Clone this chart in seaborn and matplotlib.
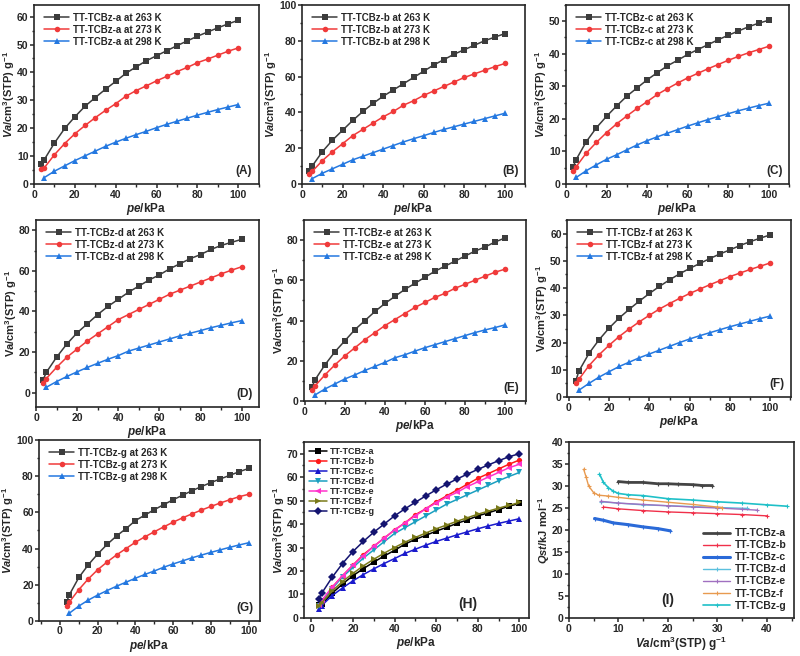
import numpy as np
import pandas as pd
import matplotlib
matplotlib.use('Agg')
import matplotlib.pyplot as plt
from matplotlib.ticker import AutoMinorLocator, MultipleLocator
import seaborn as sns

# pressure grids (kPa)
p_cold = [3.5, 5, 10, 15, 20, 25, 30, 35, 40, 45, 50, 55, 60, 65, 70, 75, 80, 85, 90, 95, 100]
p_warm = [5, 10, 15, 20, 25, 30, 35, 40, 45, 50, 55, 60, 65, 70, 75, 80, 85, 90, 95, 100]

# uptake at 263 K, 273 K, 298 K for each sample
a_263 = [7.3, 8.7, 14.7, 19.9, 24.1, 27.9, 31, 34, 36.8, 39.7, 42, 44.2, 46, 47.8, 49.6, 51.3, 53, 54.5, 56, 57.4, 58.7]
a_273 = [5.4, 5.8, 10.5, 14.5, 18, 21, 23.8, 26.4, 28.8, 31.5, 33.5, 35.2, 37, 38.6, 40.3, 41.8, 43.5, 44.8, 46.2, 47.6, 48.8]
a_298 = [2.3, 4.6, 6.5, 8.4, 10.1, 11.8, 13.5, 15, 16.4, 17.7, 18.9, 20.2, 21.4, 22.5, 23.6, 24.7, 25.7, 26.7, 27.6, 28.5]

b_263 = [7, 10, 18, 24.5, 30, 35.5, 40.5, 45, 49, 52.5, 56, 59.5, 63, 66.5, 69.5, 72.5, 75, 77.5, 80, 82, 84]
b_273 = [5.5, 7, 13, 18, 22.5, 27, 30.5, 34, 37.5, 40.5, 44, 46.5, 49.5, 52, 54.5, 57, 59.5, 61.5, 63.5, 65.5, 67.3]
b_298 = [3, 6, 8.5, 11, 13.5, 15.5, 17.5, 19.5, 21.5, 23.5, 25.3, 27, 28.8, 30.5, 32, 33.5, 35, 36.5, 38, 39.5]

c_263 = [5.3, 7.5, 13, 17.3, 20.8, 24, 27, 29.5, 32, 34.2, 36.3, 38, 39.8, 41.3, 42.8, 44.3, 45.7, 47, 48.3, 49.4, 50.3]
c_273 = [4, 5.3, 9.5, 12.8, 15.8, 18.5, 20.9, 23.2, 25.3, 27.5, 29.3, 31, 32.6, 34, 35.4, 36.7, 38, 39.2, 40.3, 41.3, 42.3]
c_298 = [2, 4.1, 5.9, 7.6, 9, 10.5, 12, 13.3, 14.5, 15.6, 16.7, 17.8, 18.8, 19.8, 20.7, 21.6, 22.5, 23.3, 24.1, 24.8]

d_263 = [6.5, 10, 17.5, 24, 29.5, 34, 38.5, 42.5, 46, 49.5, 52.5, 55.5, 58, 61, 63.5, 66, 68, 70.5, 72.5, 74, 75.5]
d_273 = [5, 7, 12.5, 17.5, 21.5, 25.5, 29, 32.5, 36, 38.5, 41, 43.5, 46, 48.5, 50.5, 52.5, 54.5, 56.5, 58.5, 60.3, 62]
d_298 = [2.7, 5.5, 8, 10.3, 12.5, 14.5, 16.5, 18.3, 20.5, 22, 23.5, 25, 26.5, 28, 29.3, 30.6, 32, 33.2, 34.4, 35.5]

e_263 = [7, 10.5, 18, 24.5, 30, 35.5, 40, 44.5, 48.5, 52, 55.5, 58.5, 61.5, 64.5, 67, 69.5, 72, 74.5, 76.5, 79, 81]
e_273 = [5.5, 7.5, 13, 18, 22.5, 26.5, 30.5, 34, 37.5, 40.5, 43.5, 46.5, 49, 51.5, 53.5, 56, 58, 60, 62, 64, 65.5]
e_298 = [3, 6, 8.5, 11, 13, 15.2, 17.2, 19.2, 21.5, 23, 24.8, 26.5, 28, 29.5, 31, 32.5, 34, 35.3, 36.5, 37.8]

f_263 = [6, 9.5, 16, 21, 25.3, 29, 32.2, 35.2, 38, 40.6, 43, 45.2, 47.2, 49, 50.8, 52.5, 54, 55.6, 57, 58.3, 59.5]
f_273 = [5, 6.5, 11.5, 15.5, 19, 22.2, 25, 27.6, 30, 32.3, 34.3, 36.2, 38, 39.6, 41.2, 42.7, 44.2, 45.5, 46.8, 48, 49.2]
f_298 = [2.5, 5, 7.3, 9.3, 11.2, 12.8, 14.4, 15.8, 17.2, 18.6, 20, 21.3, 22.5, 23.6, 24.7, 25.8, 26.8, 27.8, 28.8, 29.7]

g_263 = [10.5, 14.5, 24, 31, 37, 42.3, 47, 51, 55.5, 58.5, 61.5, 64.3, 67, 69.5, 72, 74.3, 76.5, 78.5, 80.5, 82.5, 84.3]
g_273 = [8, 10.5, 17.3, 23.2, 28.3, 32.6, 36.5, 40, 43.5, 46.5, 49.3, 52, 54.6, 57, 59.2, 61.3, 63.3, 65.2, 67, 68.7, 70]
g_298 = [4.3, 8.2, 11.5, 14.3, 16.8, 19.2, 21.4, 23.6, 25.7, 27.6, 29.7, 31.5, 33.2, 34.9, 36.4, 37.9, 39.3, 40.7, 42, 43.2]

# isosteric heat (panel I)
qa_v = [10, 12, 15, 18, 20, 22, 25, 27, 29]
qa_q = [31, 30.8, 30.8, 30.5, 30.5, 30.4, 30.3, 30.1, 30.1]
qb_v = [7, 10, 15, 20, 25, 30, 35, 40]
qb_q = [25.2, 24.8, 24.4, 24.1, 23.9, 23.7, 23.5, 23.2]
qc_v = [5.2, 7, 9, 12, 15, 18, 20.5]
qc_q = [22.6, 22.2, 21.6, 21.2, 20.7, 20.3, 19.8]
qd_v = [6.5, 10, 15, 20, 25, 30, 36]
qd_q = [26.4, 26.1, 25.7, 25.5, 25.3, 25.1, 24.9]
qe_v = [6.5, 10, 15, 20, 25, 30, 35, 38]
qe_q = [26.5, 26.1, 25.8, 25.5, 25.2, 25, 24.7, 24.5]
qf_v = [3, 3.5, 4, 5, 6, 8, 10, 15, 20, 25, 30, 31]
qf_q = [33.8, 32, 30, 28.5, 27.9, 27.7, 27.4, 26.8, 26.3, 25.8, 25.2, 25.1]
qg_v = [6.2, 7, 8, 9, 10, 12, 15, 20, 25, 30, 35, 40, 44]
qg_q = [32.7, 30.8, 29.6, 28.8, 28.3, 28, 27.8, 27.1, 26.8, 26.4, 26.1, 25.7, 25.4]

samples = ['a', 'b', 'c', 'd', 'e', 'f', 'g']

sns.set_style('ticks')
plt.rcParams['font.family'] = ['Liberation Sans', 'DejaVu Sans']
plt.rcParams['font.weight'] = 'bold'
plt.rcParams['mathtext.fontset'] = 'custom'
plt.rcParams['mathtext.rm'] = 'Liberation Sans:bold'
plt.rcParams['mathtext.it'] = 'Liberation Sans:bold:italic'
plt.rcParams['mathtext.bf'] = 'Liberation Sans:bold'
plt.rcParams['mathtext.default'] = 'rm'


def style_axes(ax, xlim, ylim, xstep, ystep, xlabel, ylabel):
    ax.set_xlim(*xlim)
    ax.set_ylim(*ylim)
    ax.xaxis.set_major_locator(MultipleLocator(xstep))
    ax.yaxis.set_major_locator(MultipleLocator(ystep))
    ax.xaxis.set_minor_locator(AutoMinorLocator(2))
    ax.yaxis.set_minor_locator(AutoMinorLocator(2))
    ax.tick_params(which='major', direction='out', length=3, width=1.1, labelsize=7.5, pad=1)
    ax.tick_params(which='minor', direction='out', length=1.8, width=1)
    for lbl in ax.get_xticklabels() + ax.get_yticklabels():
        lbl.set_fontweight('bold')
    for sp in ax.spines.values():
        sp.set_visible(True)
        sp.set_linewidth(1.2)
    ax.set_xlabel(xlabel, fontsize=8.5, fontweight='bold', labelpad=1)
    ax.set_ylabel(ylabel, fontsize=8, fontweight='bold', labelpad=0)


def bold_legend(ax, **kw):
    leg = ax.legend(frameon=False, handletextpad=0.4, **kw)
    for t in leg.get_texts():
        t.set_fontweight('bold')
    return leg


fig = plt.figure(figsize=(8, 6.56), dpi=100)

iso_panels = [
    ('a', a_263, a_273, a_298, [0.0425, 0.7195, 0.281, 0.273], (0, 110), (0, 64.2), 10, True),
    ('b', b_263, b_273, b_298, [0.3775, 0.7195, 0.279, 0.273], (0, 110), (0, 100), 20, True),
    ('c', c_263, c_273, c_298, [0.7075, 0.7195, 0.279, 0.273], (0, 110), (0, 55), 10, True),
    ('d', d_263, d_273, d_298, [0.045, 0.3796, 0.279, 0.285], (0, 108.5), (-7, 85), 20, False),
    ('e', e_263, e_273, e_298, [0.38, 0.3887, 0.2775, 0.276], (-0.5, 110.6), (0, 90), 20, False),
    ('f', f_263, f_273, f_298, [0.709, 0.3948, 0.28, 0.27], (-0.8, 110.4), (0, 65), 10, False),
    ('g', g_263, g_273, g_298, [0.049, 0.0535, 0.276, 0.2757], (-11, 106), (0, 100), 20, True),
]

c263, c273, c298 = '#3c3c3c', '#f03a3a', '#2478e0'

for s, v263, v273, v298, rect, xl, yl, ystep, it in iso_panels:
    ax = fig.add_axes(rect)
    sns.lineplot(x=p_cold, y=v263, ax=ax, color=c263, marker='s', markersize=3.8, lw=1.1,
                 markeredgewidth=0, label=f'TT-TCBz-{s} at 263 K')
    sns.lineplot(x=p_cold, y=v273, ax=ax, color=c273, marker='o', markersize=4, lw=1.1,
                 markeredgewidth=0, label=f'TT-TCBz-{s} at 273 K')
    sns.lineplot(x=p_warm, y=v298, ax=ax, color=c298, marker='^', markersize=4.3, lw=1.1,
                 markeredgewidth=0, label=f'TT-TCBz-{s} at 298 K')
    ylab = r'$\mathit{Va}$/cm$^{3}$(STP) g$^{-1}$' if it else r'Va/cm$^{3}$(STP) g$^{-1}$'
    style_axes(ax, xl, yl, 20, ystep, r'$\mathit{pe}$/kPa', ylab)
    bold_legend(ax, loc='upper left', fontsize=7, borderaxespad=0.4, labelspacing=0.2,
                handlelength=2.6, bbox_to_anchor=(0.01, 1.0))
    ax.text(0.97, 0.04, f'({s.upper()})', transform=ax.transAxes, ha='right', va='bottom',
            fontsize=8.5, fontweight='bold')

# panel H: 273 K comparison
h_series = [a_273, b_273, c_273, d_273, e_273, f_273, g_273]
h_colors = ['#000000', '#ff1a1a', '#1a1acc', '#1a9fc0', '#ff33cc', '#7a7a1a', '#141470']
h_markers = ['s', 'o', '^', 'v', '<', '>', 'D']
axh = fig.add_axes([0.38, 0.058, 0.281, 0.2683])
for s, vals, col, mk in zip(samples, h_series, h_colors, h_markers):
    sns.lineplot(x=p_cold, y=vals, ax=axh, color=col, marker=mk, markersize=3.8, lw=1.1,
                 markeredgewidth=0, label=f'TT-TCBz-{s}')
style_axes(axh, (-3.5, 104.5), (0, 75), 20, 10, r'$\mathit{pe}$/kPa',
           r'$\mathit{Va}$/cm$^{3}$(STP) g$^{-1}$')
bold_legend(axh, loc='upper left', fontsize=6.5, borderaxespad=0.2, labelspacing=0.1,
            handlelength=1.9)
axh.text(0.73, 0.04, '(H)', transform=axh.transAxes, ha='center', va='bottom',
         fontsize=10, fontweight='bold')

# panel I: isosteric heat
q_series = [(qa_v, qa_q), (qb_v, qb_q), (qc_v, qc_q), (qd_v, qd_q), (qe_v, qe_q), (qf_v, qf_q), (qg_v, qg_q)]
q_colors = ['#444444', '#f0304a', '#2a6ad8', '#5bc0de', '#a070c0', '#e89a50', '#1fc0c8']
q_widths = [2.0, 1.0, 2.2, 1.0, 1.0, 1.0, 1.2]
axi = fig.add_axes([0.711, 0.058, 0.281, 0.2683])
for s, (vv, qq), col, w in zip(samples, q_series, q_colors, q_widths):
    sns.lineplot(x=vv, y=qq, ax=axi, color=col, marker='+', markersize=3, lw=w,
                 markeredgewidth=0.8, markeredgecolor=col, label=f'TT-TCBz-{s}', sort=False)
style_axes(axi, (0, 45.4), (0, 40), 10, 5, r'$\mathit{Va}$/cm$^{3}$(STP) g$^{-1}$',
           r'$\mathit{Qst}$/kJ mol$^{-1}$')
bold_legend(axi, loc='lower right', fontsize=7.5, borderaxespad=0.3, labelspacing=0.2,
            handlelength=2.6)
axi.text(20, 2.5, '(I)', ha='center', va='bottom', fontsize=10, fontweight='bold')

fig.savefig('out.png', dpi=100)
